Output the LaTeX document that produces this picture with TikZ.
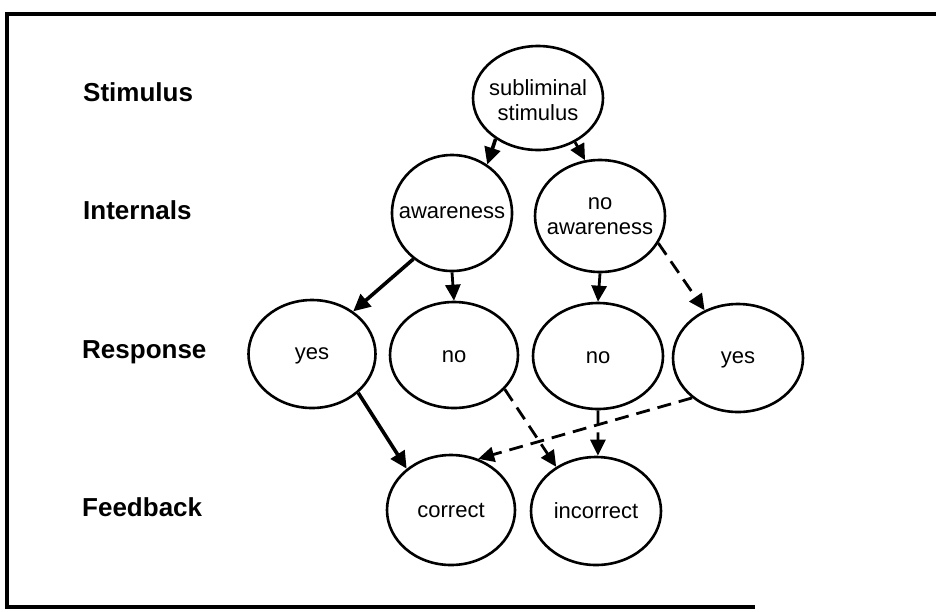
\documentclass[tikz,border=0pt]{standalone}
\usepackage{fontspec}
\setmainfont{Liberation Sans}
\usetikzlibrary{shapes.geometric,arrows.meta}
\begin{document}
\begin{tikzpicture}[x=1pt,y=-1pt,
  oval/.style 2 args={ellipse,draw,line width=2.6pt,inner sep=0pt,
    minimum width=#1,minimum height=#2},
  txt/.style={inner sep=0pt,align=center,font=\fontsize{22}{25}\selectfont},
  rowlbl/.style={anchor=west,inner sep=0pt,font=\fontsize{26}{30}\selectfont\bfseries},
  arr/.style={-{Triangle[length=17pt,width=16pt]},line width=3.6pt},
  darr/.style={-{Triangle[length=16pt,width=15pt]},line width=2.8pt,dash pattern=on 14pt off 8pt}]
\useasboundingbox (0,0) rectangle (936,611);
% frame
\draw[line width=3.6pt] (936,14) -- (7,14) -- (7,607) -- (755,607);
% row labels
\node[rowlbl] (l1) at (83,92) {Stimulus};
\node[rowlbl] (l2) at (83,210) {Internals};
\node[rowlbl] (l3) at (82,352) {Response};
\node[rowlbl] (l4) at (82,507) {Feedback};
% ovals
\node[oval={130pt}{104pt},label={[txt,yshift=-2pt]center:subliminal\\stimulus}] (S) at (538,98) {};
\node[oval={120pt}{116pt},label={[txt]center:awareness}] (A) at (452,213) {};
\node[oval={130pt}{112pt},label={[txt]center:no\\awareness}] (NA) at (600,216) {};
\node[oval={127pt}{108pt},label={[txt,yshift=-2pt]center:yes}] (Y1) at (312,354) {};
\node[oval={128pt}{106pt},label={[txt,yshift=-2pt]center:no}] (N1) at (454,355) {};
\node[oval={130pt}{106pt},label={[txt,yshift=-2pt]center:no}] (N2) at (598,356) {};
\node[oval={130pt}{108pt},label={[txt,yshift=-2pt]center:yes}] (Y2) at (738,358) {};
\node[oval={128pt}{110pt},label={[txt]center:correct}] (C) at (451,510) {};
\node[oval={130pt}{108pt},label={[txt]center:incorrect}] (I) at (596,511) {};
% connectors
\draw[arr] (S.224) -- (A.54);
\draw[darr] (S.310) -- (NA.105);
\draw[arr] (A.230) -- (Y1.46);
\draw[darr] (A.270) -- (N1.90);
\draw[darr] (NA.270) -- (N2.90);
\draw[darr] (NA.335) -- (Y2.125);
\draw[arr] (Y1.320) -- (C.137);
\draw[darr] (N1.326) -- (I.132);
\draw[darr] (N2.270) -- (I.88);
\draw[darr] (Y2.221) -- (C.62);
\end{tikzpicture}
\end{document}
